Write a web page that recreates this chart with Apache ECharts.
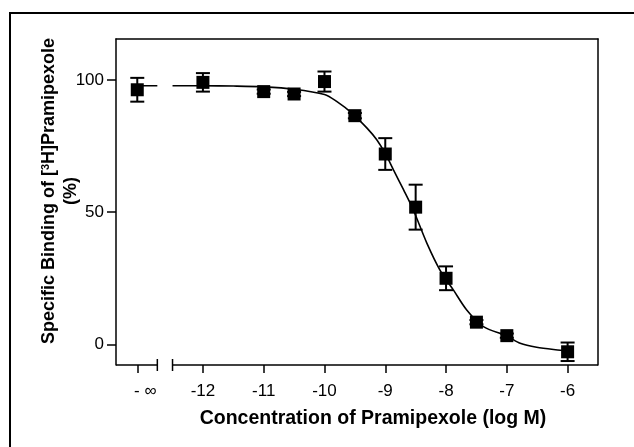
<!DOCTYPE html>
<html>
<head>
<meta charset="utf-8">
<script src="https://cdn.jsdelivr.net/npm/echarts@6/dist/echarts.min.js"></script>
<style>
html,body{margin:0;padding:0;background:#fff;}
#main{width:634px;height:447px;}
</style>
</head>
<body>
<div id="main"></div>
<script>
// ---- data ----
const NEG_INF = -13.08;              // plotting position used for the "-∞" (no drug) point
const concentrations = [NEG_INF, -12, -11, -10.5, -10, -9.5, -9, -8.5, -8, -7.5, -7, -6];
const bindingMean = [96.3, 99.1, 95.6, 94.7, 99.4, 86.5, 72.0, 51.9, 25.0, 8.4, 3.3, -2.8];
const bindingSem  = [4.5, 3.5, 0.8, 0.8, 3.8, 1.0, 6.0, 8.5, 4.5, 0.8, 0.8, 3.5];

// fitted curve
const curveX = [-12.5, -12, -11.5, -11, -10.5, -10, -9.8, -9.55, -9.3, -9.14, -9.0, -8.865, -8.7, -8.54, -8.316, -8.1, -7.88, -7.66, -7.385, -7.0, -6.78, -6.51, -6.12, -6.0];
const curveY = [97.8, 97.8, 97.7, 97.4, 96.5, 94.5, 91.9, 87.5, 81.8, 77.4, 72.2, 66.0, 58.5, 50.9, 38.3, 28.1, 20.6, 13.0, 6.7, 3.2, 0.4, -1.1, -2.2, -2.5];
// short plateau segment drawn next to the "-∞" point
const plateauX = [NEG_INF, -12.75];
const plateauY = [97.8, 97.8];

// axis
const xTickValues = [NEG_INF, -12, -11, -10, -9, -8, -7, -6];
const yTickValues = [0, 50, 100];
const X_MIN = -13.43, X_MAX = -5.5, Y_MIN = -7.8, Y_MAX = 115.5;
const axisBreak = [-12.75, -12.5];   // gap in the x axis line
const xTitle = 'Concentration of Pramipexole (log M)';

const FONT = '"Liberation Sans", Arial, Helvetica, sans-serif';

const chart = echarts.init(document.getElementById('main'), null, {renderer: 'canvas'});

const points = concentrations.map((x, i) => [x, bindingMean[i]]);
const errData = concentrations.map((x, i) => [x, bindingMean[i] - bindingSem[i], bindingMean[i] + bindingSem[i]]);
const curve = curveX.map((x, i) => [x, curveY[i]]);
const plateau = plateauX.map((x, i) => [x, plateauY[i]]);
const axisSegments = [[X_MIN, axisBreak[0], 0, 1], [axisBreak[1], X_MAX, 1, 0]];

chart.setOption({
  animation: false,
  backgroundColor: '#fff',
  grid: {left: 116, top: 39, right: 36, bottom: 82, containLabel: false},
  xAxis: [{
    type: 'value', min: X_MIN, max: X_MAX,
    axisLine: {show: false, onZero: false},
    splitLine: {show: false},
    axisTick: {show: true, customValues: xTickValues, length: 8, inside: false,
      lineStyle: {color: '#000', width: 1.5}},
    axisLabel: {
      customValues: xTickValues, margin: 18, color: '#000', fontSize: 17, fontFamily: FONT,
      formatter: v => (Math.abs(v - NEG_INF) < 1e-6 ? '{inf|- ∞}' : String(v)),
      rich: {inf: {fontSize: 17, fontFamily: FONT, color: '#000', padding: [0, 0, 0, 16]}}
    }
  }, {
    type: 'value', position: 'top', min: X_MIN, max: X_MAX,
    axisLine: {show: true, onZero: false, lineStyle: {color: '#000', width: 1.5}},
    axisTick: {show: false}, axisLabel: {show: false}, splitLine: {show: false}
  }],
  yAxis: [{
    type: 'value', min: Y_MIN, max: Y_MAX,
    axisLine: {show: true, onZero: false, lineStyle: {color: '#000', width: 1.5}},
    splitLine: {show: false},
    axisTick: {show: true, customValues: yTickValues, length: 9, lineStyle: {color: '#000', width: 1.5}},
    axisLabel: {customValues: yTickValues, margin: 12, color: '#000', fontSize: 17, fontFamily: FONT}
  }, {
    type: 'value', position: 'right', min: Y_MIN, max: Y_MAX,
    axisLine: {show: true, onZero: false, lineStyle: {color: '#000', width: 1.5}},
    axisTick: {show: false}, axisLabel: {show: false}, splitLine: {show: false}
  }],
  series: [
    {
      type: 'line', data: curve, smooth: 0.3, symbol: 'none', z: 2,
      lineStyle: {color: '#000', width: 1.6}
    },
    {
      type: 'line', data: plateau, symbol: 'none', z: 2,
      lineStyle: {color: '#000', width: 1.6}
    },
    {
      type: 'custom', z: 3, clip: false,
      data: errData,
      renderItem: (params, api) => {
        const x = api.value(0);
        const lo = api.coord([x, api.value(1)]);
        const hi = api.coord([x, api.value(2)]);
        const w = 7;
        const st = {stroke: '#000', lineWidth: 2};
        return {type: 'group', children: [
          {type: 'line', shape: {x1: lo[0], y1: lo[1], x2: hi[0], y2: hi[1]}, style: st},
          {type: 'line', shape: {x1: lo[0] - w, y1: lo[1], x2: lo[0] + w, y2: lo[1]}, style: st},
          {type: 'line', shape: {x1: hi[0] - w, y1: hi[1], x2: hi[0] + w, y2: hi[1]}, style: st}
        ]};
      }
    },
    {
      type: 'scatter', data: points, symbol: 'rect', symbolSize: 13, z: 4,
      itemStyle: {color: '#000', opacity: 1}
    },
    {
      type: 'custom', z: 5, clip: false,
      data: axisSegments,
      renderItem: (params, api) => {
        const a = api.coord([api.value(0), Y_MIN]);
        const b = api.coord([api.value(1), Y_MIN]);
        const st = {stroke: '#000', lineWidth: 1.5};
        const ch = [{type: 'line', shape: {x1: a[0], y1: a[1], x2: b[0], y2: b[1]}, style: st}];
        if (api.value(2)) ch.push({type: 'line', shape: {x1: a[0], y1: a[1] - 6, x2: a[0], y2: a[1] + 6}, style: st});
        if (api.value(3)) ch.push({type: 'line', shape: {x1: b[0], y1: b[1] - 6, x2: b[0], y2: b[1] + 6}, style: st});
        return {type: 'group', children: ch};
      }
    }
  ],
  graphic: [
    {type: 'rect', shape: {x: 10, y: 13, width: 700, height: 500}, style: {fill: null, stroke: '#000', lineWidth: 2}, silent: true},
    {type: 'text', x: 373, y: 419, style: {text: xTitle, font: 'bold 19.5px ' + FONT, fill: '#000', align: 'center', verticalAlign: 'middle'}},
    {type: 'text', x: 49, y: 191, rotation: Math.PI / 2,
      style: {text: 'Specific Binding of [{sup|3}H]Pramipexole', font: 'bold 18px ' + FONT, fill: '#000', align: 'center', verticalAlign: 'middle',
        rich: {sup: {font: 'bold 11px ' + FONT, fill: '#000', verticalAlign: 'top', padding: [0, 0, 6, 0]}}}},
    {type: 'text', x: 71, y: 191, rotation: Math.PI / 2,
      style: {text: '(%)', font: 'bold 18px ' + FONT, fill: '#000', align: 'center', verticalAlign: 'middle'}}
  ]
});
</script>
</body>
</html>
